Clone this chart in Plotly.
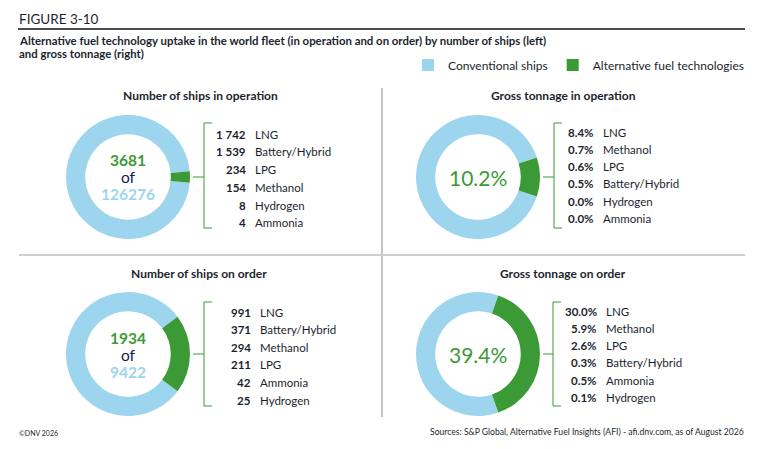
import plotly.graph_objects as go

# the page body keeps its 8px default margin, so the figure is drawn 8px smaller
OFF = 8
W, H = 775 - OFF, 449 - OFF

BLUE = '#9dd5ee'
GREEN = '#3b9a35'
NAVY = '#0f204b'
TEXT = '#1c1f2e'

SANS = 'Lato, Open Sans, sans-serif'

# data
legend_labels = ['Conventional ships', 'Alternative fuel technologies']

ships_op_total = 126276
ships_op_alt = 3681
ships_order_total = 9422
ships_order_alt = 1934
gt_op_alt_pct = 10.2
gt_order_alt_pct = 39.4

op_ship_fuels = ['LNG', 'Battery/Hybrid', 'LPG', 'Methanol', 'Hydrogen', 'Ammonia']
op_ship_counts = [1742, 1539, 234, 154, 8, 4]

op_gt_fuels = ['LNG', 'Methanol', 'LPG', 'Battery/Hybrid', 'Hydrogen', 'Ammonia']
op_gt_pct = [8.4, 0.7, 0.6, 0.5, 0.0, 0.0]

order_ship_fuels = ['LNG', 'Battery/Hybrid', 'Methanol', 'LPG', 'Ammonia', 'Hydrogen']
order_ship_counts = [991, 371, 294, 211, 42, 25]

order_gt_fuels = ['LNG', 'Methanol', 'LPG', 'Battery/Hybrid', 'Ammonia', 'Hydrogen']
order_gt_pct = [30.0, 5.9, 2.6, 0.3, 0.5, 0.1]


def fx(x):
    return (x - OFF) / W


def fy(y):
    return 1 - (y - OFF) / H


def fmt_count(v):
    return '{:,}'.format(v).replace(',', ' ')


def fmt_pct(v):
    return '{:.1f}%'.format(v)


fig = go.Figure()
shapes = []
annotations = []


def text(x, y, s, size, color=TEXT, anchor='center', weight=None):
    f = dict(size=size, color=color, family=SANS)
    if weight:
        f['weight'] = weight
    annotations.append(dict(x=fx(x), y=fy(y), xref='paper', yref='paper', text=s,
                            showarrow=False, xanchor=anchor, yanchor='middle',
                            font=f, borderpad=0))


def line(x0, y0, x1, y1, color, width=1):
    shapes.append(dict(type='line', xref='paper', yref='paper',
                       x0=fx(x0), y0=fy(y0), x1=fx(x1), y1=fy(y1),
                       line=dict(color=color, width=width)))


def donut(cx, cy, r, conv, alt, first=False):
    share = alt / (conv + alt)
    fig.add_trace(go.Pie(
        labels=legend_labels,
        values=[conv, alt],
        hole=0.69,
        sort=False,
        direction='clockwise',
        rotation=90 + share * 180,
        marker=dict(colors=[BLUE, GREEN], line=dict(width=0)),
        textinfo='none',
        hoverinfo='label+value',
        showlegend=first,
        domain=dict(x=[fx(cx - r), fx(cx + r)], y=[fy(cy + r), fy(cy - r)]),
    ))


def bracket(x, y0, y1, ym, left):
    line(x, y0, x, y1, GREEN)
    line(x, y0, x + 8, y0, GREEN)
    line(x, y1, x + 8, y1, GREEN)
    line(left, ym, x, ym, GREEN)


def breakdown(xnum, y0, step, values, names, fmt):
    for i, (v, n) in enumerate(zip(values, names)):
        y = y0 + i * step
        text(xnum, y, fmt(v), 11.5, TEXT, 'right', 700)
        text(xnum + 7, y, n, 11.5, TEXT, 'left')


# donuts
donut(128, 177, 62, ships_op_total - ships_op_alt, ships_op_alt, first=True)
donut(478, 177, 62, 100 - gt_op_alt_pct, gt_op_alt_pct)
donut(128, 354, 62, ships_order_total - ships_order_alt, ships_order_alt)
donut(478, 354, 62, 100 - gt_order_alt_pct, gt_order_alt_pct)

# header
text(18, 19, 'FIGURE 3-10', 13.5, TEXT, 'left')
line(18, 29, 745, 29, '#111111', 1.5)
text(18, 40, 'Alternative fuel technology uptake in the world fleet (in operation and on order) '
             'by number of ships (left)', 11.4, TEXT, 'left', 700)
text(18, 53, 'and gross tonnage (right)', 11.4, TEXT, 'left', 700)

# panel dividers
line(382, 88, 382, 417, '#8a8a8a', 1)
line(19, 255, 745, 255, '#cfcfcf', 2)

# panel titles
text(200, 95, 'Number of ships in operation', 12, TEXT, 'center', 700)
text(563, 95, 'Gross tonnage in operation', 12, TEXT, 'center', 700)
text(199, 273, 'Number of ships on order', 12, TEXT, 'center', 700)
text(563, 273, 'Gross tonnage on order', 12, TEXT, 'center', 700)

# centre texts
text(128, 160, str(ships_op_alt), 15.5, GREEN, 'center', 700)
text(128, 177, 'of', 15.5, NAVY, 'center')
text(128, 194, str(ships_op_total), 15.5, BLUE, 'center', 700)
text(478, 177, fmt_pct(gt_op_alt_pct), 21, GREEN, 'center')
text(128, 338, str(ships_order_alt), 15.5, GREEN, 'center', 700)
text(128, 355, 'of', 15.5, NAVY, 'center')
text(128, 372, str(ships_order_total), 15.5, BLUE, 'center', 700)
text(478, 354, fmt_pct(gt_order_alt_pct), 21, GREEN, 'center')

# brackets and breakdowns
bracket(204, 123, 228, 177, 193)
breakdown(247, 134, 17.8, op_ship_counts, op_ship_fuels, fmt_count)
bracket(554, 123, 228, 177, 543)
breakdown(595, 132, 17.3, op_gt_pct, op_gt_fuels, fmt_pct)
bracket(204, 302, 406, 354, 193)
breakdown(252, 312, 17.6, order_ship_counts, order_ship_fuels, fmt_count)
bracket(553, 302, 406, 354, 543)
breakdown(598, 311, 17.3, order_gt_pct, order_gt_fuels, fmt_pct)

# footer
text(18, 433, '©DNV 2026', 7, TEXT, 'left')
text(745, 432, 'Sources: S&P Global, Alternative Fuel Insights (AFI) - afi.dnv.com, as of August 2026',
     8.6, TEXT, 'right')

fig.update_layout(
    width=W,
    height=H,
    margin=dict(l=0, r=0, t=0, b=0),
    paper_bgcolor='white',
    plot_bgcolor='white',
    shapes=shapes,
    annotations=annotations,
    legend=dict(orientation='h', x=fx(749), xanchor='right', y=fy(65), yanchor='middle',
                font=dict(size=12, color=TEXT, family=SANS),
                itemsizing='constant', traceorder='normal', bgcolor='rgba(0,0,0,0)'),
)

fig.write_html("out.html")
